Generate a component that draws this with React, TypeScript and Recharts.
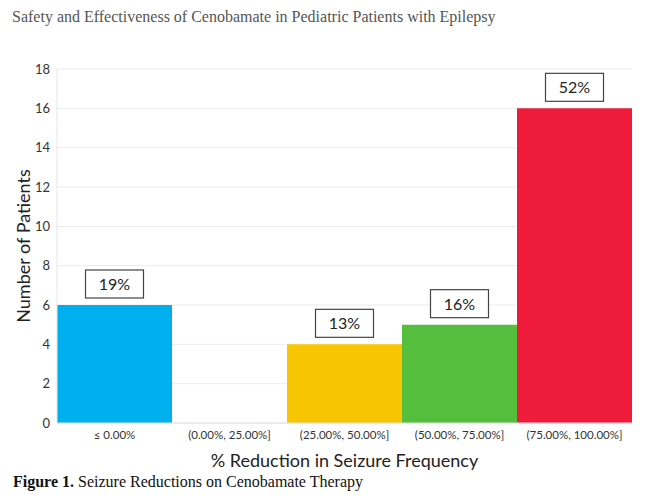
import React from "react";
import { BarChart, Bar, XAxis, YAxis, CartesianGrid, Cell, LabelList, Label } from "recharts";

const categories = ["≤ 0.00%", "(0.00%, 25.00%]", "(25.00%, 50.00%]", "(50.00%, 75.00%]", "(75.00%, 100.00%]"];
const patients = [6, 0, 4, 5, 16];
const percents = ["19%", "", "13%", "16%", "52%"];
const colors = ["#00B0EE", "#FFFFFF", "#F8C502", "#55BE3C", "#EE1C3A"];
const yTicks = [0, 2, 4, 6, 8, 10, 12, 14, 16, 18];

const data = categories.map((c, i) => ({ name: c, value: patients[i], pct: percents[i] }));

const FONT = "Lato, 'Open Sans', sans-serif";

const BoxLabel = (props: any) => {
  const { x, y, width, value } = props;
  const t = value;
  if (!t) return null;
  const w = 58;
  const h = 28;
  const cx = x + width / 2;
  return (
    <g>
      <rect x={cx - w / 2} y={y - 7 - h} width={w} height={h} fill="#fff" stroke="#444" strokeWidth={1.2} />
      <text x={cx} y={y - 7 - h / 2 + 6} textAnchor="middle" fontSize={16} fill="#222" fontFamily={FONT}>
        {t}
      </text>
    </g>
  );
};

export default function App() {
  return (
    <div style={{ position: "absolute", left: 0, top: 0, width: 666, height: 497, background: "#fff" }}>
      <div
        style={{
          position: "absolute",
          left: 12,
          top: 8,
          fontFamily: "'Liberation Serif', 'Times New Roman', serif",
          fontSize: 16,
          color: "#555",
          whiteSpace: "nowrap",
        }}
      >
        Safety and Effectiveness of Cenobamate in Pediatric Patients with Epilepsy
      </div>
      <BarChart
        width={666}
        height={497}
        data={data}
        margin={{ top: 69, right: 34, bottom: 44, left: 0 }}
        barCategoryGap={0}
        barGap={0}
      >
        <CartesianGrid vertical={false} stroke="#ebebeb" />
        <XAxis
          dataKey="name"
          interval={0}
          tickLine={false}
          axisLine={{ stroke: "#e0e0e0" }}
          tick={{ fontSize: 11.5, fill: "#333", fontFamily: FONT }}
          tickMargin={2}
        >
          <Label
            content={(p: any) => {
              const vb = p.viewBox;
              return (
                <text x={vb.x + vb.width / 2} y={467} textAnchor="middle" fontSize={18} fill="#222" fontFamily={FONT}>
                  % Reduction in Seizure Frequency
                </text>
              );
            }}
          />
        </XAxis>
        <YAxis
          width={57}
          domain={[0, 18]}
          ticks={yTicks}
          interval={0}
          tickLine={false}
          axisLine={{ stroke: "#e6e6e6" }}
          tick={{ fontSize: 13, fill: "#333", fontFamily: FONT }}
          tickMargin={1}
        >
          <Label
            content={() => (
              <text
                x={30}
                y={246}
                transform="rotate(-90 30 246)"
                textAnchor="middle"
                fontSize={18}
                fill="#222"
                fontFamily={FONT}
              >
                Number of Patients
              </text>
            )}
          />
        </YAxis>
        <Bar dataKey="value" isAnimationActive={false}>
          {data.map((d, i) => (
            <Cell key={d.name} fill={colors[i]} />
          ))}
          <LabelList dataKey="pct" content={BoxLabel} />
        </Bar>
      </BarChart>
      <div
        style={{
          position: "absolute",
          left: 13,
          top: 473,
          fontFamily: "'Liberation Serif', 'Times New Roman', serif",
          fontSize: 16,
          color: "#111",
          whiteSpace: "nowrap",
        }}
      >
        <b>Figure 1.</b> Seizure Reductions on Cenobamate Therapy
      </div>
    </div>
  );
}
